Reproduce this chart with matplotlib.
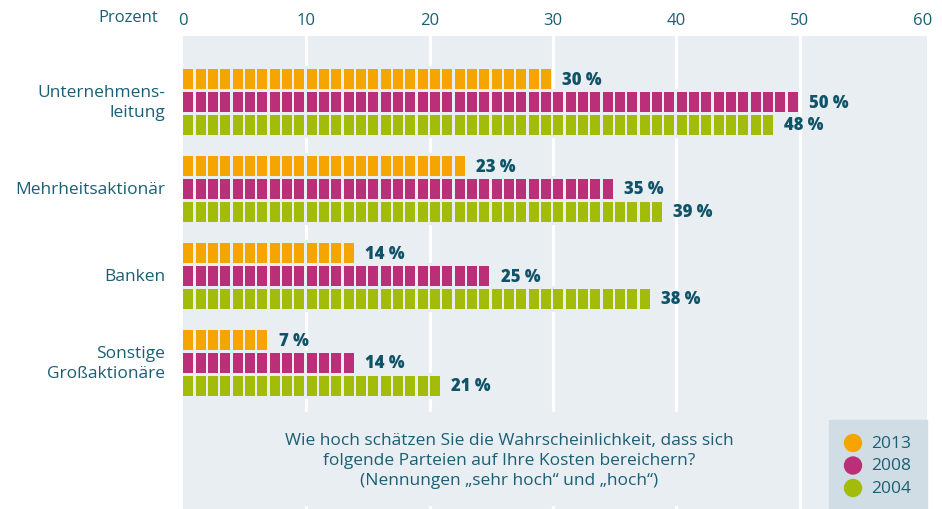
import numpy as np
import matplotlib
matplotlib.use("Agg")
import matplotlib.pyplot as plt
import matplotlib.transforms as mtransforms
from matplotlib.patches import Rectangle, Ellipse

plt.rcParams['font.family'] = ['Open Sans', 'DejaVu Sans']

# --- data -------------------------------------------------------------
categories = ["Unternehmens-\nleitung", "Mehrheitsaktionär", "Banken",
              "Sonstige\nGroßaktionäre"]
years = ["2013", "2008", "2004"]
values_2013 = [30, 23, 14, 7]
values_2008 = [50, 35, 25, 14]
values_2004 = [48, 39, 38, 21]
series = [values_2013, values_2008, values_2004]
xticks = [0, 10, 20, 30, 40, 50, 60]
question = ("Wie hoch schätzen Sie die Wahrscheinlichkeit, dass sich\n"
            "folgende Parteien auf Ihre Kosten bereichern?\n"
            "(Nennungen „sehr hoch“ und „hoch“)")

# --- style ------------------------------------------------------------
colors = ["#f6a500", "#bb2f78", "#a3bc0a"]
panel_bg = "#e9eef2"
legend_bg = "#d0dde4"
text_col = "#1a5f74"
label_col = "#0f5368"

W, H = 942, 510
fig = plt.figure(figsize=(W / 100, H / 100), dpi=100)
fig.patch.set_facecolor("white")

# plot panel
left_px, right_px, top_px = 183, 927, 37
ax = fig.add_axes([left_px / W, 0, (right_px - left_px) / W, (H - top_px) / H])
ax.set_facecolor(panel_bg)
for s in ax.spines.values():
    s.set_visible(False)

px_per_unit = (923 - 183) / 60
ax.set_xlim(0, (right_px - left_px) / px_per_unit)

group_px = 87.0
first_center_px = 103.0
ax.set_ylim((H - first_center_px) / group_px, -(first_center_px - top_px) / group_px)

bar_pitch = 22.8 / group_px
bar_h = 20.0 / group_px
pad_h = 6.0 / group_px

# vertical white gridlines
for gx in xticks[1:-1]:
    ax.axvline(gx, color="white", lw=2.3, zorder=1)

# segmented bars: one block per percentage point
for i in range(len(categories)):
    for j, vals in enumerate(series):
        v = vals[i]
        y = i + (j - 1) * bar_pitch
        ax.barh(y, v + 0.1, left=-0.2, height=bar_h + pad_h,
                color=panel_bg, zorder=2, linewidth=0)
        ax.barh([y] * v, [0.81] * v, left=np.arange(v) + 0.03, height=bar_h,
                color=colors[j], zorder=3, linewidth=0)
        ax.text(v + 0.75, y, f"{v} %", ha="left", va="center",
                fontsize=12, fontweight="heavy", color=label_col, zorder=4)

# top axis ticks
ax.xaxis.tick_top()
ax.set_xticks(xticks)
ax.set_xticklabels([str(t) for t in xticks], fontsize=12, color=text_col)
ax.tick_params(axis="x", length=0, pad=6)
ax.set_yticks([])
fig.text(158 / W, 1 - 18 / H, "Prozent", ha="right", va="center",
         fontsize=12, color=text_col)

# category labels
blend = mtransforms.blended_transform_factory(fig.transFigure, ax.transData)
for i, cat in enumerate(categories):
    fig.text(165 / W, i, cat, transform=blend, ha="right", va="center",
             fontsize=12.5, color=text_col, linespacing=1.3, multialignment="right")


def fig_px(x, y):
    return x / W, 1 - y / H


# question box
qx0, qy0 = fig_px(190, 506)
qx1, qy1 = fig_px(760, 413)
fig.add_artist(Rectangle((qx0, qy0), qx1 - qx0, qy1 - qy0,
                         transform=fig.transFigure, color=panel_bg, zorder=5))
fig.text(*fig_px(509, 461), question, ha="center", va="center", fontsize=12.5,
         color=text_col, linespacing=1.3, zorder=6)

# legend
lx0, ly0 = fig_px(829, 510)
lx1, ly1 = fig_px(927, 421)
fig.add_artist(Rectangle((lx0, ly0), lx1 - lx0, ly1 - ly0,
                         transform=fig.transFigure, color=legend_bg, zorder=5))
for k, (yr, c) in enumerate(zip(years, colors)):
    ypx = 444 + k * 22.5
    fig.add_artist(Ellipse(fig_px(853, ypx), 17 / W, 17 / H,
                           transform=fig.transFigure, color=c, zorder=6))
    fig.text(*fig_px(871, ypx), yr, ha="left", va="center", fontsize=12.5,
             color=text_col, zorder=7)

fig.savefig("out.png", dpi=100)
